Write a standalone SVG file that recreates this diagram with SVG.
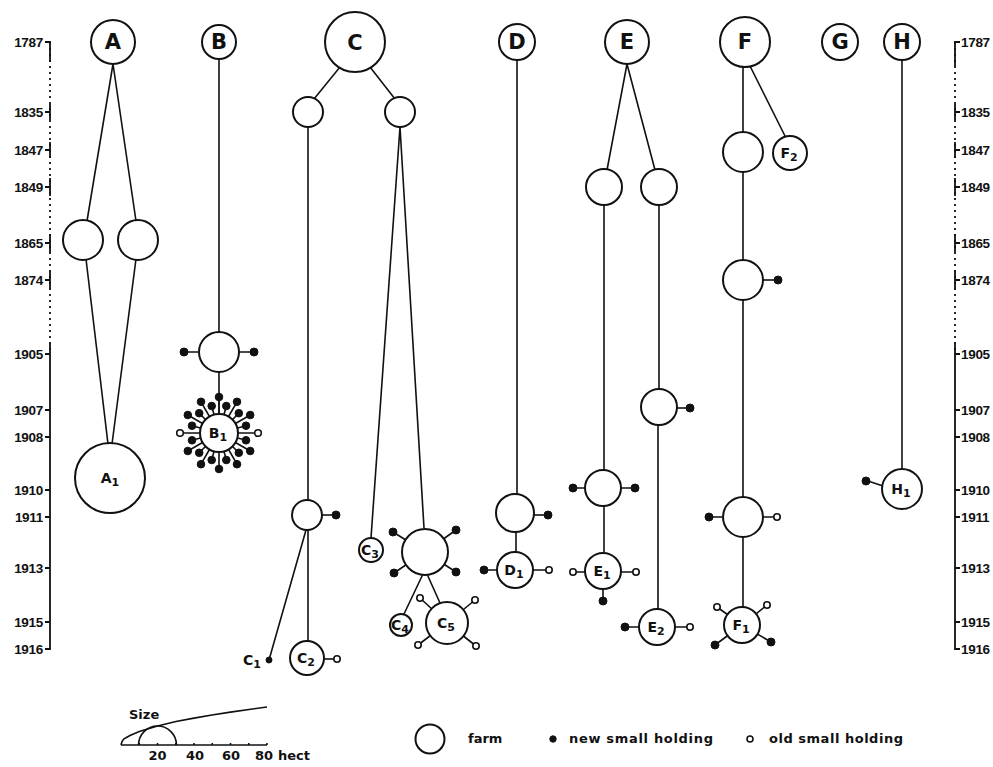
<svg xmlns="http://www.w3.org/2000/svg" width="993" height="767" viewBox="0 0 993 767">
<style>
.ax{stroke:#111;stroke-width:1.8;fill:none}
.dot{stroke:#111;stroke-width:1.8;fill:none;stroke-dasharray:2 4}
.yl{font-family:"Liberation Sans",Arial,sans-serif;font-weight:bold;font-size:13.5px;fill:#111;letter-spacing:-0.3px}
.ln{stroke:#111;stroke-width:1.6;fill:none}
.n{fill:#fff;stroke:#111;stroke-width:2}
.big{font-family:"DejaVu Sans",sans-serif;font-weight:bold;font-size:21px;fill:#111;text-anchor:middle}
.sm{font-family:"DejaVu Sans",sans-serif;font-weight:bold;font-size:14px;fill:#111;text-anchor:middle}
.sub{font-size:11px}
.f{fill:#111;stroke:#111;stroke-width:1}
.o{fill:#fff;stroke:#111;stroke-width:1.6}
.lg{font-family:"DejaVu Sans",sans-serif;font-weight:bold;font-size:13px;fill:#111}
</style>
<rect width="993" height="767" fill="#fff"/>

<g id="axis-left">
<line class="dot" x1="50" y1="42" x2="50" y2="354"/>
<path class="ax" d="M45 42H50V62 M50 104V120 M50 142V158 M50 178V196 M50 234V252 M50 271V289 M50 343V649H45 M45 112H50 M45 150H50 M45 187H50 M45 243H50 M45 280H50 M45 354H50 M45 410H50 M45 437H50 M45 490H50 M45 517H50 M45 568H50 M45 622H50"/>
<g class="yl" text-anchor="end">
<text x="43" y="47">1787</text><text x="43" y="117">1835</text><text x="43" y="155">1847</text><text x="43" y="192">1849</text><text x="43" y="248">1865</text><text x="43" y="285">1874</text><text x="43" y="359">1905</text><text x="43" y="415">1907</text><text x="43" y="442">1908</text><text x="43" y="495">1910</text><text x="43" y="522">1911</text><text x="43" y="573">1913</text><text x="43" y="627">1915</text><text x="43" y="654">1916</text>
</g>
</g>

<g id="axis-right">
<line class="dot" x1="955" y1="42" x2="955" y2="354"/>
<path class="ax" d="M960 42H955V66 M955 104V120 M955 142V158 M955 178V196 M955 234V252 M955 271V289 M955 343V649H960 M955 112H960 M955 150H960 M955 187H960 M955 243H960 M955 280H960 M955 354H960 M955 410H960 M955 437H960 M955 490H960 M955 517H960 M955 568H960 M955 622H960"/>
<g class="yl">
<text x="961" y="47">1787</text><text x="961" y="117">1835</text><text x="961" y="155">1847</text><text x="961" y="192">1849</text><text x="961" y="248">1865</text><text x="961" y="285">1874</text><text x="961" y="359">1905</text><text x="961" y="415">1907</text><text x="961" y="442">1908</text><text x="961" y="495">1910</text><text x="961" y="522">1911</text><text x="961" y="573">1913</text><text x="961" y="627">1915</text><text x="961" y="654">1916</text>
</g>
</g>

<g id="connectors" class="ln">
<path d="M113 64L87 221 M113 64L136 221 M86 259L108 444 M136 259L112 444"/>
<path d="M219 59V332 M219 372V415"/>
<path d="M340 67L314 99 M370 67L395 99 M308 127V500 M306 530L269 660 M308 530V641 M400 127L371 538 M400 127L424 528 M423 574L404 614 M427 574L440 603"/>
<path d="M517 60V494 M516 532V552"/>
<path d="M627 64L607 170 M627 64L655 170 M604 205V470 M604 506V552 M659 205V389 M658 425V609"/>
<path d="M743 67L743 132 M750 66L785 136 M743 172V260 M743 300V497 M743 537V608"/>
<path d="M902 60V469"/>
</g>

<g id="A"><circle class="n" cx="113" cy="42" r="22"/><text class="big" x="113" y="49">A</text></g>
<g id="A-1865a"><circle class="n" cx="83" cy="240" r="20"/></g>
<g id="A-1865b"><circle class="n" cx="138" cy="240" r="20"/></g>
<g id="A1"><circle class="n" cx="110" cy="478" r="35"/><text class="sm" x="110" y="483">A<tspan class="sub" dy="3">1</tspan></text></g>

<g id="B"><circle class="n" cx="219" cy="42" r="17"/><text class="big" x="219" y="49">B</text></g>
<g id="B-1905">
<path class="ln" d="M199 352H186 M239 352H253"/>
<circle class="f" cx="184" cy="352" r="4"/><circle class="f" cx="254" cy="352" r="4"/>
<circle class="n" cx="219" cy="352" r="20"/>
</g>
<g id="B1">
<path class="ln" stroke-width="1.4" d="M219 433L246 440.3 M219 433L250.2 451 M219 433L238.8 452.8 M219 433L237 464.2 M219 433L226.3 460 M219 433L219 469 M219 433L211.7 460 M219 433L201 464.2 M219 433L199.2 452.8 M219 433L187.8 451 M219 433L192 440.3 M219 433L192 425.7 M219 433L187.8 415 M219 433L199.2 413.2 M219 433L201 401.8 M219 433L211.7 406 M219 433L219 397 M219 433L226.3 406 M219 433L237 401.8 M219 433L238.8 413.2 M219 433L250.2 415 M219 433L246 425.7 M180 433H258"/>
<g class="f">
<circle cx="246" cy="440.3" r="3.8"/><circle cx="250.2" cy="451" r="3.8"/><circle cx="238.8" cy="452.8" r="3.8"/><circle cx="237" cy="464.2" r="3.8"/><circle cx="226.3" cy="460" r="3.8"/><circle cx="219" cy="469" r="3.8"/><circle cx="211.7" cy="460" r="3.8"/><circle cx="201" cy="464.2" r="3.8"/><circle cx="199.2" cy="452.8" r="3.8"/><circle cx="187.8" cy="451" r="3.8"/><circle cx="192" cy="440.3" r="3.8"/><circle cx="192" cy="425.7" r="3.8"/><circle cx="187.8" cy="415" r="3.8"/><circle cx="199.2" cy="413.2" r="3.8"/><circle cx="201" cy="401.8" r="3.8"/><circle cx="211.7" cy="406" r="3.8"/><circle cx="219" cy="397" r="3.8"/><circle cx="226.3" cy="406" r="3.8"/><circle cx="237" cy="401.8" r="3.8"/><circle cx="238.8" cy="413.2" r="3.8"/><circle cx="250.2" cy="415" r="3.8"/><circle cx="246" cy="425.7" r="3.8"/>
</g>
<circle class="o" cx="180" cy="433" r="3.3"/><circle class="o" cx="258" cy="433" r="3.3"/>
<circle class="n" cx="219" cy="433" r="19"/>
<text class="sm" x="218" y="438">B<tspan class="sub" dy="3">1</tspan></text>
</g>

<g id="C"><circle class="n" cx="355" cy="42" r="30"/><text class="big" x="355" y="50">C</text></g>
<g id="C-1835a"><circle class="n" cx="308" cy="112" r="15"/></g>
<g id="C-1835b"><circle class="n" cx="400" cy="112" r="15"/></g>
<g id="C-1911">
<path class="ln" d="M322 515H334"/><circle class="f" cx="336" cy="515" r="4"/>
<circle class="n" cx="307" cy="515" r="15"/>
</g>
<g id="C1"><circle class="f" cx="269" cy="660" r="3"/><text class="sm" x="252" y="665">C<tspan class="sub" dy="3">1</tspan></text></g>
<g id="C2">
<path class="ln" d="M324 659H335"/><circle class="o" cx="337" cy="659" r="3.2"/>
<circle class="n" cx="307" cy="658" r="17"/><text class="sm" x="306" y="663">C<tspan class="sub" dy="3">2</tspan></text>
</g>
<g id="C3"><circle class="n" cx="371" cy="550" r="12"/><text class="sm" x="370" y="555">C<tspan class="sub" dy="3">3</tspan></text></g>
<g id="C-1913">
<path class="ln" d="M425 552L393 532 M425 552L456 530 M425 552L394 573 M425 552L456 572"/>
<circle class="f" cx="393" cy="532" r="4"/><circle class="f" cx="456" cy="530" r="4"/><circle class="f" cx="394" cy="573" r="4"/><circle class="f" cx="456" cy="572" r="4"/>
<circle class="n" cx="425" cy="552" r="23"/>
</g>
<g id="C4"><circle class="n" cx="401" cy="625" r="11"/><text class="sm" x="400" y="630">C<tspan class="sub" dy="3">4</tspan></text></g>
<g id="C5">
<path class="ln" d="M447 623L420 598 M447 623L475 600 M447 623L418 645 M447 623L476 646"/>
<circle class="o" cx="420" cy="598" r="3.2"/><circle class="o" cx="475" cy="600" r="3.2"/><circle class="o" cx="418" cy="645" r="3.2"/><circle class="o" cx="476" cy="646" r="3.2"/>
<circle class="n" cx="447" cy="623" r="21"/><text class="sm" x="446" y="628">C<tspan class="sub" dy="3">5</tspan></text>
</g>

<g id="D"><circle class="n" cx="517" cy="42" r="18"/><text class="big" x="517" y="49">D</text></g>
<g id="D-1911">
<path class="ln" d="M534 515H546"/><circle class="f" cx="548" cy="515" r="4"/>
<circle class="n" cx="515" cy="513" r="19"/>
</g>
<g id="D1">
<path class="ln" d="M497 570H486 M533 570H546"/><circle class="f" cx="484" cy="570" r="4"/><circle class="o" cx="549" cy="570" r="3.2"/>
<circle class="n" cx="515" cy="570" r="18"/><text class="sm" x="514" y="575">D<tspan class="sub" dy="3">1</tspan></text>
</g>

<g id="E"><circle class="n" cx="627" cy="42" r="22"/><text class="big" x="627" y="49">E</text></g>
<g id="E-1849a"><circle class="n" cx="604" cy="187" r="18"/></g>
<g id="E-1849b"><circle class="n" cx="659" cy="187" r="18"/></g>
<g id="E-1910">
<path class="ln" d="M585 488H575 M621 488H633"/><circle class="f" cx="573" cy="488" r="4"/><circle class="f" cx="635" cy="488" r="4"/>
<circle class="n" cx="603" cy="488" r="18"/>
</g>
<g id="E1">
<path class="ln" d="M585 572H576 M621 572H633 M603 590V598"/><circle class="o" cx="573" cy="572" r="3.2"/><circle class="o" cx="636" cy="572" r="3.2"/><circle class="f" cx="603" cy="601" r="4"/>
<circle class="n" cx="603" cy="571" r="18"/><text class="sm" x="602" y="576">E<tspan class="sub" dy="3">1</tspan></text>
</g>
<g id="E-1907">
<path class="ln" d="M677 408H688"/><circle class="f" cx="690" cy="408" r="4"/>
<circle class="n" cx="659" cy="407" r="18"/>
</g>
<g id="E2">
<path class="ln" d="M639 627H627 M675 627H687"/><circle class="f" cx="625" cy="627" r="4"/><circle class="o" cx="690" cy="627" r="3.2"/>
<circle class="n" cx="657" cy="627" r="18"/><text class="sm" x="656" y="632">E<tspan class="sub" dy="3">2</tspan></text>
</g>

<g id="F"><circle class="n" cx="745" cy="42" r="25"/><text class="big" x="745" y="49">F</text></g>
<g id="F-1847"><circle class="n" cx="743" cy="152" r="20"/></g>
<g id="F2"><circle class="n" cx="790" cy="153" r="17"/><text class="sm" x="789" y="158">F<tspan class="sub" dy="3">2</tspan></text></g>
<g id="F-1874">
<path class="ln" d="M763 280H776"/><circle class="f" cx="778" cy="280" r="4"/>
<circle class="n" cx="743" cy="280" r="20"/>
</g>
<g id="F-1911">
<path class="ln" d="M723 517H711 M763 517H774"/><circle class="f" cx="709" cy="517" r="4"/><circle class="o" cx="777" cy="517" r="3.2"/>
<circle class="n" cx="743" cy="517" r="20"/>
</g>
<g id="F1">
<path class="ln" d="M742 625L717 607 M742 625L767 605 M742 625L715 645 M742 625L771 642"/>
<circle class="o" cx="717" cy="607" r="3.2"/><circle class="o" cx="767" cy="605" r="3.2"/><circle class="f" cx="715" cy="645" r="4"/><circle class="f" cx="771" cy="642" r="4"/>
<circle class="n" cx="742" cy="625" r="18"/><text class="sm" x="741" y="630">F<tspan class="sub" dy="3">1</tspan></text>
</g>

<g id="G"><circle class="n" cx="840" cy="42" r="18"/><text class="big" x="840" y="49">G</text></g>
<g id="H"><circle class="n" cx="902" cy="42" r="18"/><text class="big" x="902" y="49">H</text></g>
<g id="H1">
<path class="ln" d="M883 486L868 481"/><circle class="f" cx="866" cy="481" r="4"/>
<circle class="n" cx="902" cy="489" r="20"/><text class="sm" x="901" y="494">H<tspan class="sub" dy="3">1</tspan></text>
</g>

<g id="size-scale">
<path class="ln" d="M121 745H267"/>
<path class="ln" stroke-width="1.2" d="M139.3 745v-2 M157.5 745v-2 M175.8 745v-2 M194 745v-2 M212.3 745v-2 M230.5 745v-2 M248.8 745v-2 M267 745v-2"/>
<path class="ln" d="M121 745C122 740 124 738.5 126 737.8 L130 735.5 L139.3 731.6 L157.5 726 L176 721.5 L194 718.1 L212 715 L230.5 712.1 L249 709.5 L267 707"/>
<path class="ln" d="M138.5 745A19 19 0 0 1 176.5 745"/>
<text class="lg" x="129" y="719" font-size="14">Size</text>
<g class="lg" font-size="12.5">
<text x="157.5" y="760" text-anchor="middle">20</text><text x="195" y="760" text-anchor="middle">40</text><text x="231" y="760" text-anchor="middle">60</text><text x="264" y="760" text-anchor="middle">80</text><text x="278" y="760">hect</text>
</g>
</g>

<g id="legend">
<circle class="n" cx="430" cy="739" r="14.5"/>
<text class="lg" x="468" y="743">farm</text>
<circle class="f" cx="553" cy="739" r="3.2"/>
<text class="lg" x="569" y="743" textLength="144">new small holding</text>
<circle class="o" cx="750" cy="739" r="3"/>
<text class="lg" x="769" y="743" textLength="134">old small holding</text>
</g>
</svg>
